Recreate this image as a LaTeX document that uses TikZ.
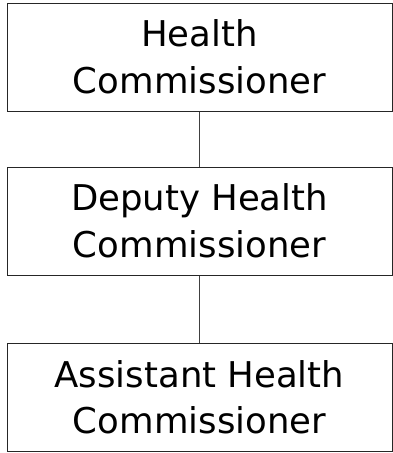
\documentclass[tikz,border=0pt]{standalone}
\usepackage{fontspec}
\setmainfont{DejaVu Sans}
\begin{document}
\begin{tikzpicture}[x=1pt,y=-1pt,
  rolebox/.style={draw=black!85,line width=1pt,minimum width=385pt,minimum height=108pt,
    align=center,inner sep=0pt,font=\fontsize{35.5}{46.5}\selectfont},
  link/.style={draw=black!75,line width=1pt}]
\useasboundingbox (0,0) rectangle (393,453);
\node[rolebox] (hc) at (199.5,57) {Health\\Commissioner};
\node[rolebox] (dhc) at (199.5,221) {Deputy Health\\Commissioner};
\node[rolebox] (ahc) at (199.5,397.5) {Assistant Health\\Commissioner};
\draw[link] (hc) -- (dhc);
\draw[link] (dhc) -- (ahc);
\end{tikzpicture}
\end{document}
